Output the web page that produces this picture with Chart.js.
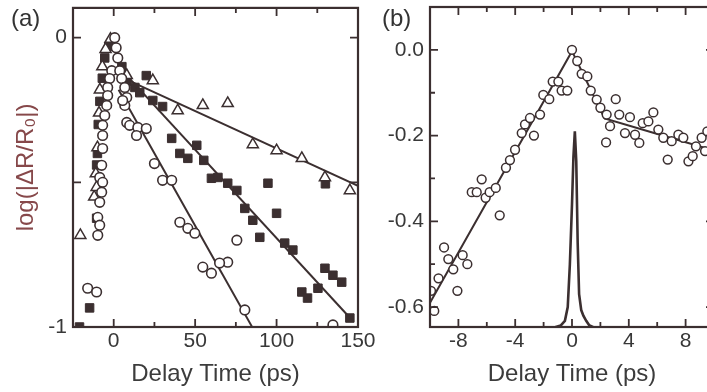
<!DOCTYPE html>
<html><head><meta charset="utf-8">
<script src="https://cdn.jsdelivr.net/npm/chart.js@4/dist/chart.umd.min.js"></script>
<style>
html,body{margin:0;padding:0;background:#fff;overflow:hidden;width:707px;height:392px}
#ca{position:absolute;left:0;top:0}
#cb{position:absolute;left:370px;top:0}
</style></head><body>
<canvas id="ca" width="390" height="392"></canvas>
<canvas id="cb" width="360" height="392"></canvas>
<script>
// ---------- text ----------
const panelLabels = ['(a)', '(b)'];
const xTitle = 'Delay Time (ps)';
const aYTitle = 'log(|ΔR/R₀|)';

// ---------- panel (a) data ----------
const aCircleX = [0.6, 1.5, 2.5, -1.2, 3.7, -2.5, 4.9, -3.7, 6.8, -3.7, 8.0, -4.3, 6.8, -5.5, 5.5, 8.0, 9.8, -6.8, 14.8, 20, -6.8, 14.0, -6.8, 25, -7.4, -8.6, 30, 35.6, -6.8, -7.4, -8.6, -9.8, 40.6, -8.6, 45.5, 49.8, -9.8, 75.6, 70, 65, 54.7, 60, -16, -10.5, 80.5, 134.6];
const aCircleY = [0, -0.035, -0.07, -0.114, -0.114, -0.141, -0.141, -0.172, -0.172, -0.2, -0.207, -0.234, -0.234, -0.269, -0.217, -0.293, -0.303, -0.303, -0.31, -0.314, -0.338, -0.338, -0.383, -0.435, -0.441, -0.483, -0.493, -0.493, -0.5, -0.534, -0.569, -0.621, -0.638, -0.648, -0.659, -0.676, -0.683, -0.7, -0.776, -0.779, -0.793, -0.814, -0.866, -0.879, -0.941, -0.993];

const aTriX = [-20.5, -12, -11, -10.5, -10, -9, -8.5, -7, -5, -2, 8, 24, 39.3, 54.7, 70, 85.4, 100, 115.5, 129.7, 145];
const aTriY = [-0.683, -0.55, -0.47, -0.517, -0.38, -0.26, -0.18, -0.1, -0.04, -0.005, -0.13, -0.148, -0.252, -0.234, -0.227, -0.369, -0.39, -0.417, -0.483, -0.528];

const aSqX = [-21, -14.8, -10.5, -10.5, -10, -9.5, -8.5, -7, -5.5, -3, 5, 8, 13, 16, 20, 24, 30, 35.6, 40.6, 45.5, 51, 55.3, 60, 64, 70, 75.6, 80.5, 85.4, 89.7, 94.7, 100, 105, 110, 115.5, 119, 125.4, 129.7, 130, 134.6, 140, 145];
const aSqY = [-1.0, -0.934, -0.624, -0.44, -0.40, -0.3, -0.22, -0.14, -0.07, -0.03, -0.1, -0.15, -0.172, -0.19, -0.131, -0.217, -0.238, -0.348, -0.4, -0.417, -0.372, -0.424, -0.486, -0.483, -0.503, -0.528, -0.59, -0.631, -0.69, -0.503, -0.607, -0.71, -0.734, -0.879, -0.9, -0.866, -0.797, -0.505, -0.821, -0.845, -0.969];

const aFitTriX = [6, 150], aFitTriY = [-0.14, -0.512];
const aFitSqX = [6, 147], aFitSqY = [-0.118, -0.98];
const aFitCircX = [3, 85], aFitCircY = [-0.18, -1.0];

// panel (a) ticks
const aXLabelVals = [0, 50, 100, 150];
const aXLabels = ['0', '50', '100', '150'];
const aXMinor = [25, 75, 125];
const aYLabelVals = [0, -1];
const aYLabels = ['0', '-1'];
const aYMajor = [0, -0.5, -1];
const aYMinor = [];

// ---------- panel (b) data ----------
const bCircX = [-9.93,-9.7,-9.4,-9.01,-8.71,-8.36,-8.07,-7.7,-7.37,-7.06,-6.71,-6.36,-6.08,-5.8,-5.37,-5.09,-4.65,-4.37,-4.01,-3.54,-3.31,-2.96,-2.68,-2.25,-2.02,-1.6,-1.36,-0.96,-0.73,-0.33,0,0.37,0.68,1.08,1.32,1.74,2.0,2.44,2.68,2.4,3.08,3.33,3.73,4.08,4.44,4.74,4.98,5.38,5.73,6.08,6.43,6.74,7.02,7.49,7.84,8.2,8.5,8.73,9.13,9.37,9.53];
const bCircY = [-0.562,-0.609,-0.533,-0.461,-0.488,-0.512,-0.562,-0.479,-0.5,-0.332,-0.332,-0.302,-0.345,-0.332,-0.322,-0.386,-0.275,-0.257,-0.233,-0.194,-0.174,-0.159,-0.2,-0.151,-0.105,-0.115,-0.074,-0.074,-0.095,-0.095,0,-0.026,-0.056,-0.062,-0.095,-0.116,-0.135,-0.151,-0.178,-0.216,-0.115,-0.151,-0.194,-0.157,-0.198,-0.217,-0.171,-0.167,-0.146,-0.186,-0.205,-0.256,-0.213,-0.198,-0.205,-0.26,-0.248,-0.225,-0.205,-0.236,-0.19];
const bFitX = [-10, 0, 2.3, 5.9, 10];
const bFitY = [-0.59, -0.003, -0.16, -0.195, -0.235];
const bPulseX = [-1.2,-0.8,-0.5,-0.3,-0.15,0,0.1,0.2,0.3,0.4,0.5,0.65,0.8,1.0,1.2,1.5];
const bPulseY = [-0.647,-0.643,-0.632,-0.6,-0.5,-0.36,-0.25,-0.19,-0.26,-0.45,-0.57,-0.607,-0.62,-0.632,-0.642,-0.647];

// panel (b) ticks
const bXLabelVals = [-8, -4, 0, 4, 8];
const bXLabels = ['-8', '-4', '0', '4', '8'];
const bXMinor = [-6, -2, 2, 6];
const bYLabelVals = [0, -0.2, -0.4, -0.6];
const bYLabels = ['0.0', '-0.2', '-0.4', '-0.6'];
const bYMajor = [0, -0.2, -0.4, -0.6];
const bYMinor = [-0.1, -0.3, -0.5];

// ---------- styles ----------
const FRAME = '#3b2f30';
const INK = '#3b2f30';
const TICKTXT = '#383838';
const FONT = '"Liberation Sans", Arial, sans-serif';

function pts(xs, ys) { return xs.map((x, i) => ({x, y: ys[i]})); }
function labelFor(vals, labs) { return v => { const i = vals.findIndex(t => Math.abs(t - v) < 1e-9); return i < 0 ? '' : labs[i]; }; }

function frameTicks(xMajor, xMinor, yMajor, yMinor) {
  return {
    id: 'frameTicks',
    afterDatasetsDraw(chart) {
      const {ctx, chartArea: a, scales: {x, y}} = chart;
      ctx.save();
      ctx.strokeStyle = FRAME;
      ctx.lineWidth = 1.8;
      ctx.beginPath();
      const hx = (vals, len) => vals.forEach(v => { const p = x.getPixelForValue(v);
        ctx.moveTo(p, a.bottom); ctx.lineTo(p, a.bottom - len); ctx.moveTo(p, a.top); ctx.lineTo(p, a.top + len); });
      const hy = (vals, len) => vals.forEach(v => { const p = y.getPixelForValue(v);
        ctx.moveTo(a.left, p); ctx.lineTo(a.left + len, p); ctx.moveTo(a.right, p); ctx.lineTo(a.right - len, p); });
      hx(xMajor, 8); hx(xMinor, 5); hy(yMajor, 8); hy(yMinor, 5);
      ctx.stroke();
      ctx.lineWidth = 2.2;
      ctx.strokeRect(a.left, a.top, a.right - a.left, a.bottom - a.top);
      ctx.restore();
    }
  };
}
function panelLabel(text, px, py) {
  return { id: 'panelLabel', afterDraw(chart) {
    const ctx = chart.ctx; ctx.save();
    ctx.fillStyle = '#333'; ctx.font = '24px ' + FONT; ctx.textBaseline = 'top'; ctx.textAlign = 'left';
    ctx.fillText(text, px, py); ctx.restore(); } };
}

function xScale(min, max, vals, labs, title) {
  return {
    type: 'linear', min, max,
    grid: {display: false, drawTicks: false}, border: {display: false},
    afterBuildTicks: s => { s.ticks = vals.map(v => ({value: v})); },
    afterFit: s => { s.height = 65; s.paddingLeft = 0; s.paddingRight = 0; },
    ticks: {color: TICKTXT, font: {family: FONT, size: 21}, padding: 2, maxRotation: 0, autoSkip: false, callback: labelFor(vals, labs)},
    title: {display: true, text: title, color: '#3c3c3c', font: {family: FONT, size: 24}, padding: {top: 0, bottom: 3}}
  };
}
function yScale(min, max, vals, labs, width, title) {
  const s = {
    type: 'linear', min, max,
    grid: {display: false, drawTicks: false}, border: {display: false},
    afterBuildTicks: sc => { sc.ticks = vals.map(v => ({value: v})); },
    afterFit: sc => { sc.width = width; sc.paddingTop = 0; sc.paddingBottom = 0; },
    ticks: {color: TICKTXT, font: {family: FONT, size: 21}, padding: 6, autoSkip: false, callback: labelFor(vals, labs)}
  };
  if (title) s.title = {display: true, text: title, color: '#86484a', font: {family: FONT, size: 24}, padding: {top: 12, bottom: 0}};
  return s;
}

const dotStyle = (data, style, r, fill, bw, order) => ({
  data, pointStyle: style, pointRadius: r, pointHoverRadius: r, pointBorderWidth: bw,
  pointBorderColor: INK, pointBackgroundColor: fill, showLine: false, clip: 0, order
});
const lineStyle = (data, w, order) => ({
  data, showLine: true, pointRadius: 0, borderColor: INK, borderWidth: w, clip: 0, order
});

new Chart(document.getElementById('ca'), {
  type: 'scatter',
  data: { datasets: [
    dotStyle(pts(aCircleX, aCircleY), 'circle', 4.8, '#ffffff', 1.6, 0),
    dotStyle(pts(aTriX, aTriY), 'triangle', 6.4, '#ffffff', 1.5, 1),
    dotStyle(pts(aSqX, aSqY), 'rect', 6, INK, 1, 2),
    lineStyle(pts(aFitTriX, aFitTriY), 2, 3),
    lineStyle(pts(aFitSqX, aFitSqY), 2, 3),
    lineStyle(pts(aFitCircX, aFitCircY), 2, 3)
  ]},
  options: {
    responsive: false, animation: false, events: [],
    layout: {padding: {left: 0, right: 32, top: 7, bottom: 0}},
    plugins: {legend: {display: false}, tooltip: {enabled: false}},
    scales: {
      x: xScale(-25, 150, aXLabelVals, aXLabels, xTitle),
      y: yScale(-1, 0.103, aYLabelVals, aYLabels, 73, aYTitle)
    }
  },
  plugins: [frameTicks([0, 50, 100, 150], aXMinor, aYMajor, aYMinor), panelLabel(panelLabels[0], 11, 7)]
});

new Chart(document.getElementById('cb'), {
  type: 'scatter',
  data: { datasets: [
    dotStyle(pts(bCircX, bCircY), 'circle', 4.4, '#ffffff', 1.5, 0),
    lineStyle(pts(bFitX, bFitY), 2, 1),
    lineStyle(pts(bPulseX, bPulseY), 2.6, 2)
  ]},
  options: {
    responsive: false, animation: false, events: [],
    layout: {padding: {left: 0, right: 16, top: 7, bottom: 0}},
    plugins: {legend: {display: false}, tooltip: {enabled: false}},
    scales: {
      x: xScale(-10, 10, bXLabelVals, bXLabels, xTitle),
      y: yScale(-0.6465, 0.1, bYLabelVals, bYLabels, 60, null)
    }
  },
  plugins: [frameTicks(bXLabelVals, bXMinor, bYMajor, bYMinor), panelLabel(panelLabels[1], 12, 7)]
});
</script>
</body></html>
